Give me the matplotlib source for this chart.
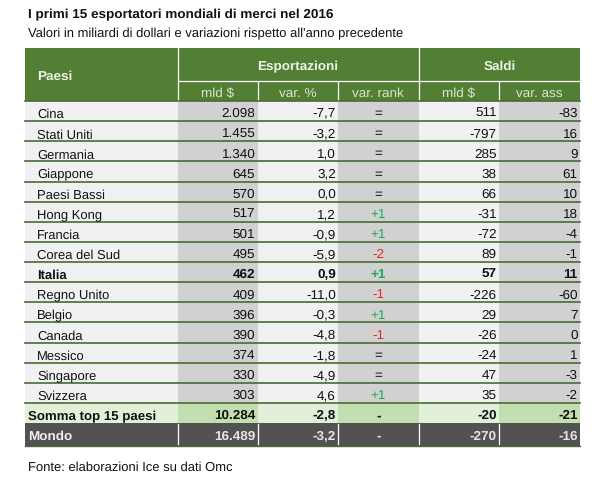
import matplotlib
matplotlib.use("Agg")
import matplotlib.pyplot as plt
from matplotlib.patches import Rectangle

plt.rcParams['font.family'] = ['Liberation Sans', 'DejaVu Sans']
plt.rcParams['text.hinting'] = 'none'

title = "I primi 15 esportatori mondiali di merci nel 2016"
subtitle = "Valori in miliardi di dollari e variazioni rispetto all'anno precedente"
source = "Fonte: elaborazioni Ice su dati Omc"

paesi = ["Cina", "Stati Uniti", "Germania", "Giappone", "Paesi Bassi", "Hong Kong", "Francia",
         "Corea del Sud", "Italia", "Regno Unito", "Belgio", "Canada", "Messico", "Singapore", "Svizzera"]
export_mld = ["2.098", "1.455", "1.340", "645", "570", "517", "501", "495", "462", "409", "396", "390", "374", "330", "303"]
export_var = ["-7,7", "-3,2", "1,0", "3,2", "0,0", "1,2", "-0,9", "-5,9", "0,9", "-11,0", "-0,3", "-4,8", "-1,8", "-4,9", "4,6"]
var_rank = ["=", "=", "=", "=", "=", "+1", "+1", "-2", "+1", "-1", "+1", "-1", "=", "=", "+1"]
saldi_mld = ["511", "-797", "285", "38", "66", "-31", "-72", "89", "57", "-226", "29", "-26", "-24", "47", "35"]
saldi_var = ["-83", "16", "9", "61", "10", "18", "-4", "-1", "11", "-60", "7", "0", "1", "-3", "-2"]
somma = ["Somma top 15 paesi", "10.284", "-2,8", "-", "-20", "-21"]
mondo = ["Mondo", "16.489", "-3,2", "-", "-270", "-16"]
groups = ["Esportazioni", "Saldi"]
subheads = ["mld $", "var. %", "var. rank", "mld $", "var. ass"]

GREEN = "#527F33"; LINE = "#4A6B35"; LIGHT = "#F1F1F1"; MID = "#D1D1D1"
S_LIGHT = "#E2EFD9"; S_MID = "#C3DFB0"; DARK = "#525252"
RISE = "#1FA85A"; FALL = "#E8262A"; INK = "#111111"
FS = 9.7

edges = [25, 177.5, 257.5, 338, 418.5, 499, 580]
head_top, head_mid, head_bot = 49, 82, 102
row_h = 20.13
sum_top = head_bot + row_h * len(paesi)
world_top = sum_top + row_h
world_bot = 447

fig = plt.figure(figsize=(6, 4.81), dpi=100)
ax = fig.add_axes([0, 0, 1, 1])
ax.set_xlim(0, 600); ax.set_ylim(481, 0); ax.axis("off")

def box(x0, x1, y0, y1, c, z=1):
    ax.add_patch(Rectangle((x0, y0), x1 - x0, y1 - y0, fc=c, ec="none", zorder=z))

def cell(col, y, s, color=INK, weight="normal"):
    x0, x1 = edges[col], edges[col + 1]
    kw = dict(va="baseline", color=color, fontweight=weight, zorder=5)
    if col == 0:
        ax.text(37, y + 1, s, ha="left", fontsize=9.35, **kw)
    elif col == 3:
        ax.text((x0 + x1) / 2, y, s, ha="center", fontsize=FS, **kw)
    else:
        ax.text(x1 - 2.2, y, s, ha="right", fontsize=FS, **kw)

ax.text(27.5, 18, title, fontsize=9.7, fontweight="bold", color="#111111", va="baseline")
ax.text(27.5, 37.7, subtitle, fontsize=9.35, color=INK, va="baseline")
ax.text(27.5, 471, source, fontsize=9.4, color=INK, va="baseline")

# header
box(edges[0], edges[-1], head_top, head_bot, GREEN)
ax.text(37, 80, "Paesi", fontsize=FS, fontweight="bold", color="#EEF3E8", va="baseline", zorder=5)
ax.text((edges[1] + edges[4]) / 2, 70, groups[0], fontsize=FS, fontweight="bold", color="#EEF3E8",
        ha="center", va="baseline", zorder=5)
ax.text((edges[4] + edges[6]) / 2, 70, groups[1], fontsize=FS, fontweight="bold", color="#EEF3E8",
        ha="center", va="baseline", zorder=5)
for i, s in enumerate(subheads):
    ax.text((edges[i + 1] + edges[i + 2]) / 2, 97.3, s, fontsize=FS, color="#DDE6D3",
            ha="center", va="baseline", zorder=5)
ax.plot([edges[1], edges[-1]], [head_mid, head_mid], color="white", lw=0.9, zorder=3)
for i in (1, 4):
    ax.plot([edges[i]] * 2, [head_top, head_bot], color="white", lw=0.9, zorder=3)
for i in (2, 3, 5):
    ax.plot([edges[i]] * 2, [head_mid, head_bot], color="white", lw=0.9, zorder=3)

# country rows
columns = [paesi, export_mld, export_var, var_rank, saldi_mld, saldi_var]
fills = [LIGHT, MID, LIGHT, MID, LIGHT, MID]
for r in range(len(paesi)):
    y0 = head_bot + r * row_h
    bold = paesi[r] == "Italia"
    for c, col in enumerate(columns):
        box(edges[c], edges[c + 1], y0, y0 + row_h, fills[c])
        color = INK
        if c == 3 and col[r].startswith("+"):
            color = RISE
        elif c == 3 and col[r].startswith("-"):
            color = FALL
        cell(c, y0 + 15.3, col[r], color, "bold" if bold else "normal")
    ax.plot([edges[0], edges[-1]], [y0, y0], color=LINE, lw=1.2, zorder=3)
ax.plot([edges[0], edges[-1]], [sum_top, sum_top], color=LINE, lw=1.2, zorder=3)

# totals
sum_fills = [S_LIGHT, S_MID, S_LIGHT, S_MID, S_LIGHT, S_MID]
for c in range(6):
    box(edges[c], edges[c + 1], sum_top, world_top, sum_fills[c])
    box(edges[c], edges[c + 1], world_top, world_bot, DARK)
    if c == 0:
        ax.text(28, sum_top + 16, somma[0], fontsize=9.55, fontweight="bold", color="#111111",
                va="baseline", zorder=5)
        ax.text(28, world_top + 16, mondo[0], fontsize=FS, fontweight="bold", color="#EFEFEF",
                va="baseline", zorder=5)
    else:
        cell(c, sum_top + 15.3, somma[c], "#111111", "bold")
        cell(c, world_top + 16, mondo[c], "#E4E4E4", "bold")
        ax.plot([edges[c]] * 2, [world_top + 1, world_bot - 2], color="white", lw=0.9, zorder=3)
ax.plot([edges[0], edges[-1]], [world_bot - 0.5] * 2, color=LINE, lw=1.0, zorder=3)

fig.savefig("out.png", dpi=100, facecolor="white")
